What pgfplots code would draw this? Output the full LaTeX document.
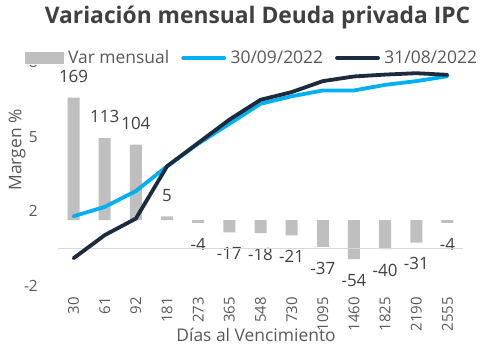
\documentclass[border=0pt]{standalone}
\usepackage{fontspec}
\setmainfont{Open Sans}
\usepackage{pgfplots}
\pgfplotsset{compat=1.18}
\definecolor{barc}{HTML}{BFBFBF}
\definecolor{lblue}{HTML}{00B0F0}
\definecolor{dnavy}{HTML}{1C2B3D}
\definecolor{txt}{HTML}{595959}
\definecolor{ttl}{HTML}{404040}
\definecolor{zl}{HTML}{D9D9D9}
\pgfplotstableread{
x var
0 169
1 113
2 104
3 5
4 -4
5 -17
6 -18
7 -21
8 -37
9 -54
10 -40
11 -31
12 -4
}\bars
\pgfplotstableread{
x sep aug
0 1.39 -0.41
1 1.79 0.58
2 2.47 1.29
3 3.53 3.53
4 4.50 4.53
5 5.35 5.53
6 6.21 6.38
7 6.53 6.71
8 6.78 7.18
9 6.78 7.38
10 7.02 7.46
11 7.18 7.52
12 7.39 7.45
}\lines
\begin{document}
\begin{tikzpicture}
\useasboundingbox (0bp,0bp) rectangle (491bp,354bp);
\node[font=\fontsize{22.9}{22.9}\bfseries\selectfont, text=ttl] at (257.5bp,336bp) {Variación mensual Deuda privada IPC};
\begin{axis}[at={(58bp,68bp)}, anchor=south west, scale only axis, width=405bp, height=224bp,
  xmin=-0.5, xmax=12.5, ymin=-91, ymax=218, hide axis, ybar, bar width=12bp,
  /pgf/number format/assume math mode=true,
  nodes near coords,
  every node near coord/.append style={font=\fontsize{17}{17}\selectfont, text=ttl, inner xsep=0pt, inner ysep=15bp}]
\addplot[fill=barc, draw=none] table[x=x, y=var] {\bars};
\end{axis}
\begin{axis}[at={(58bp,68bp)}, anchor=south west, scale only axis, width=405bp, height=224bp,
  xmin=-0.5, xmax=12.5, ymin=-1.6, ymax=8,
  axis line style={draw=none}, tick style={draw=none}, major tick length=0pt,
  xtick={0,...,12}, xticklabels={30,61,92,181,273,365,548,730,1095,1460,1825,2190,2555},
  ytick={-1.6,1.6,4.8,8}, yticklabels={-2,2,5,8},
  xticklabel style={rotate=90, anchor=east, inner xsep=11bp, inner ysep=0pt, font=\fontsize{15}{15}\selectfont, text=txt},
  yticklabel style={anchor=east, inner xsep=20bp, inner ysep=0pt, font=\fontsize{15.5}{15.5}\selectfont, text=txt},
  legend image code/.code={\draw[#1] (0bp,0bp) -- (41bp,0bp);},
  legend columns=3,
  legend style={at={(axis description cs:-0.0815,1.018)}, anchor=west, draw=none, fill=white, inner sep=0pt,
    font=\fontsize{17.5}{17.5}\selectfont, text=txt,
    nodes={inner sep=0pt},
    /tikz/every odd column/.append style={column sep=4.5bp},
    /tikz/every even column/.append style={column sep=12bp}},
  clip=false]
\addlegendimage{legend image code/.code={\fill[barc] (0bp,-5.5bp) rectangle (38bp,5.5bp);}}
\addlegendentry{Var mensual}
\draw[zl, line width=1.5bp] (axis cs:-0.5,0) -- (axis cs:12.5,0);
\addplot[lblue, line width=3.8bp, line join=round, line cap=round] table[x=x, y=sep] {\lines};
\addlegendentry{30/09/2022}
\addplot[dnavy, line width=3.8bp, line join=round, line cap=round] table[x=x, y=aug] {\lines};
\addlegendentry{31/08/2022}
\node[rotate=90, font=\fontsize{17.5}{17.5}\selectfont, text=txt] at (axis description cs:-0.101,0.607) {Margen \%};
\node[font=\fontsize{17.5}{17.5}\selectfont, text=txt] at (axis description cs:0.489,-0.219) {Días al Vencimiento};
\end{axis}
\end{tikzpicture}
\end{document}
